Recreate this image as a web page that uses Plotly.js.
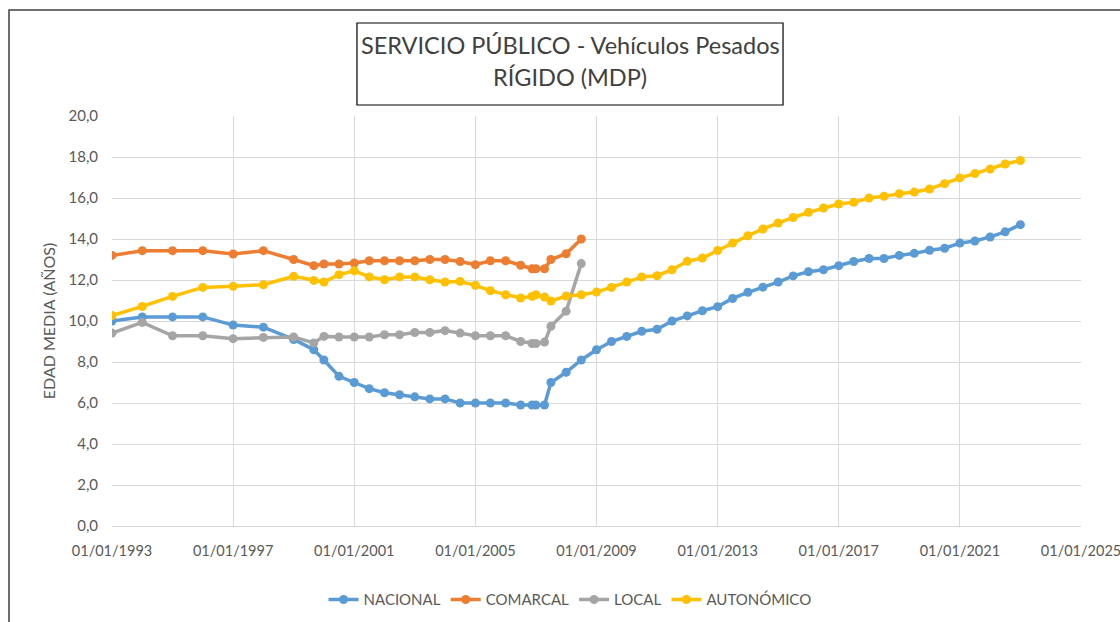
<!DOCTYPE html>
<html>
<head>
<meta charset="utf-8">
<script src="https://cdn.plot.ly/plotly-3.0.1.min.js"></script>
<style>html,body{margin:0;padding:0;background:#fff;}#chart{width:1120px;height:622px;}</style>
</head>
<body>
<div id="chart"></div>
<script>
const dates = [
  "1993-01-01","1994-01-01","1995-01-01","1996-01-01","1997-01-01","1998-01-01","1999-01-01","1999-09-01",
  "2000-01-01","2000-07-01","2001-01-01","2001-07-01","2002-01-01","2002-07-01","2003-01-01","2003-07-01",
  "2004-01-01","2004-07-01","2005-01-01","2005-07-01","2006-01-01","2006-07-01","2006-11-15","2007-01-01",
  "2007-04-15","2007-07-01","2008-01-01","2008-07-01","2009-01-01","2009-07-01","2010-01-01","2010-07-01",
  "2011-01-01","2011-07-01","2012-01-01","2012-07-01","2013-01-01","2013-07-01","2014-01-01","2014-07-01",
  "2015-01-01","2015-07-01","2016-01-01","2016-07-01","2017-01-01","2017-07-01","2018-01-01","2018-07-01",
  "2019-01-01","2019-07-01","2020-01-01","2020-07-01","2021-01-01","2021-07-01","2022-01-01","2022-07-01",
  "2023-01-01"
];
const nacional = [
  10.0,10.2,10.2,10.2,9.8,9.7,9.1,8.6,
  8.1,7.3,7.0,6.7,6.5,6.4,6.3,6.2,
  6.2,6.0,6.0,6.0,6.0,5.9,5.9,5.9,
  5.9,7.0,7.5,8.1,8.6,9.0,9.25,9.5,
  9.6,10.0,10.25,10.5,10.7,11.1,11.4,11.65,
  11.9,12.2,12.4,12.5,12.7,12.9,13.05,13.05,
  13.2,13.3,13.45,13.55,13.8,13.9,14.1,14.35,
  14.7
];
const comarcal = [
  13.2,13.43,13.43,13.43,13.27,13.43,13.0,12.7,
  12.78,12.78,12.83,12.94,12.94,12.94,12.94,13.0,
  13.0,12.9,12.75,12.94,12.94,12.72,12.55,12.55,
  12.55,13.0,13.28,14.0
];
const local = [
  9.41,9.93,9.28,9.28,9.14,9.2,9.22,8.93,
  9.25,9.22,9.22,9.22,9.33,9.33,9.44,9.44,
  9.53,9.41,9.28,9.28,9.28,9.0,8.9,8.9,
  8.97,9.74,10.48,12.8
];
const autonomico = [
  10.27,10.71,11.2,11.64,11.69,11.77,12.18,11.98,
  11.9,12.26,12.45,12.15,12.01,12.15,12.15,12.01,
  11.9,11.93,11.74,11.48,11.28,11.12,11.2,11.28,
  11.17,10.97,11.22,11.28,11.41,11.64,11.9,12.15,
  12.21,12.5,12.91,13.07,13.44,13.8,14.16,14.49,
  14.78,15.05,15.3,15.51,15.71,15.79,16.0,16.08,
  16.21,16.29,16.44,16.7,16.98,17.19,17.41,17.66,
  17.83
];
const seriesNames = ["NACIONAL","COMARCAL","LOCAL","AUTONÓMICO"];
const colors = ["#5B9BD5","#ED7D31","#A5A5A5","#FFC000"];
const titleLines = ["SERVICIO PÚBLICO - Vehículos Pesados","RÍGIDO (MDP)"];
const yTitle = "EDAD MEDIA (AÑOS)";

const FONT = "Lato, 'Open Sans', sans-serif";
const allY = [nacional, comarcal, local, autonomico];
const traces = allY.map((ys, i) => ({
  x: dates.slice(0, ys.length),
  y: ys,
  name: seriesNames[i],
  type: "scatter",
  mode: "lines+markers",
  line: {color: colors[i], width: 3.5},
  marker: {color: colors[i], size: 9, symbol: "circle"}
}));

const layout = {
  width: 1120, height: 622,
  margin: {l: 112, r: 39, t: 116, b: 96, autoexpand: false},
  paper_bgcolor: "#ffffff", plot_bgcolor: "#ffffff",
  separators: ",.",
  font: {family: FONT, color: "#595959", size: 14},
  showlegend: true,
  legend: {orientation: "h", x: 0.4727, xanchor: "center", y: -0.18, yanchor: "middle",
           font: {family: FONT, size: 15, color: "#595959"}, itemwidth: 30, traceorder: "normal"},
  xaxis: {
    type: "date", automargin: false,
    range: ["1993-01-01", "2025-01-01"],
    tick0: "1993-01-01", dtick: "M48", tickformat: "%d/%m/%Y",
    ticklabeloverflow: "allow",
    showgrid: true, gridcolor: "#D9D9D9", gridwidth: 1,
    showline: true, linecolor: "#D9D9D9", linewidth: 1,
    zeroline: false,
    ticks: "outside", ticklen: 12, tickcolor: "rgba(0,0,0,0)",
    tickfont: {family: FONT, size: 14.5, color: "#595959"}
  },
  yaxis: {
    automargin: false,
    range: [0, 20], dtick: 2, tick0: 0, tickformat: ".1f",
    showgrid: true, gridcolor: "#D9D9D9", gridwidth: 1,
    zeroline: false, showline: false,
    ticks: "outside", ticklen: 10, tickcolor: "rgba(0,0,0,0)",
    tickfont: {family: FONT, size: 15, color: "#595959"},
    title: {text: yTitle, font: {family: FONT, size: 16, color: "#595959"}, standoff: 8}
  },
  shapes: [
    {type: "rect", xref: "paper", yref: "paper", x0: -0.1063, x1: 1.2, y0: -0.5, y1: 1.2585,
     line: {color: "#404040", width: 1.5}, fillcolor: "rgba(0,0,0,0)", layer: "below"},
    {type: "rect", xref: "paper", yref: "paper", x0: 0.2528, x1: 0.6925, y0: 1.0268, y1: 1.2268,
     line: {color: "#000000", width: 1.2}, fillcolor: "#ffffff"}
  ],
  annotations: [
    {text: titleLines[0], xref: "paper", yref: "paper", x: 0.4727, y: 1.1732, xanchor: "center", yanchor: "middle",
     showarrow: false, font: {family: FONT, size: 23.5, color: "#404040"}},
    {text: titleLines[1], xref: "paper", yref: "paper", x: 0.4727, y: 1.0951, xanchor: "center", yanchor: "middle",
     showarrow: false, font: {family: FONT, size: 23.5, color: "#404040"}}
  ]
};

Plotly.newPlot("chart", traces, layout, {displayModeBar: false, staticPlot: true});
</script>
</body>
</html>
